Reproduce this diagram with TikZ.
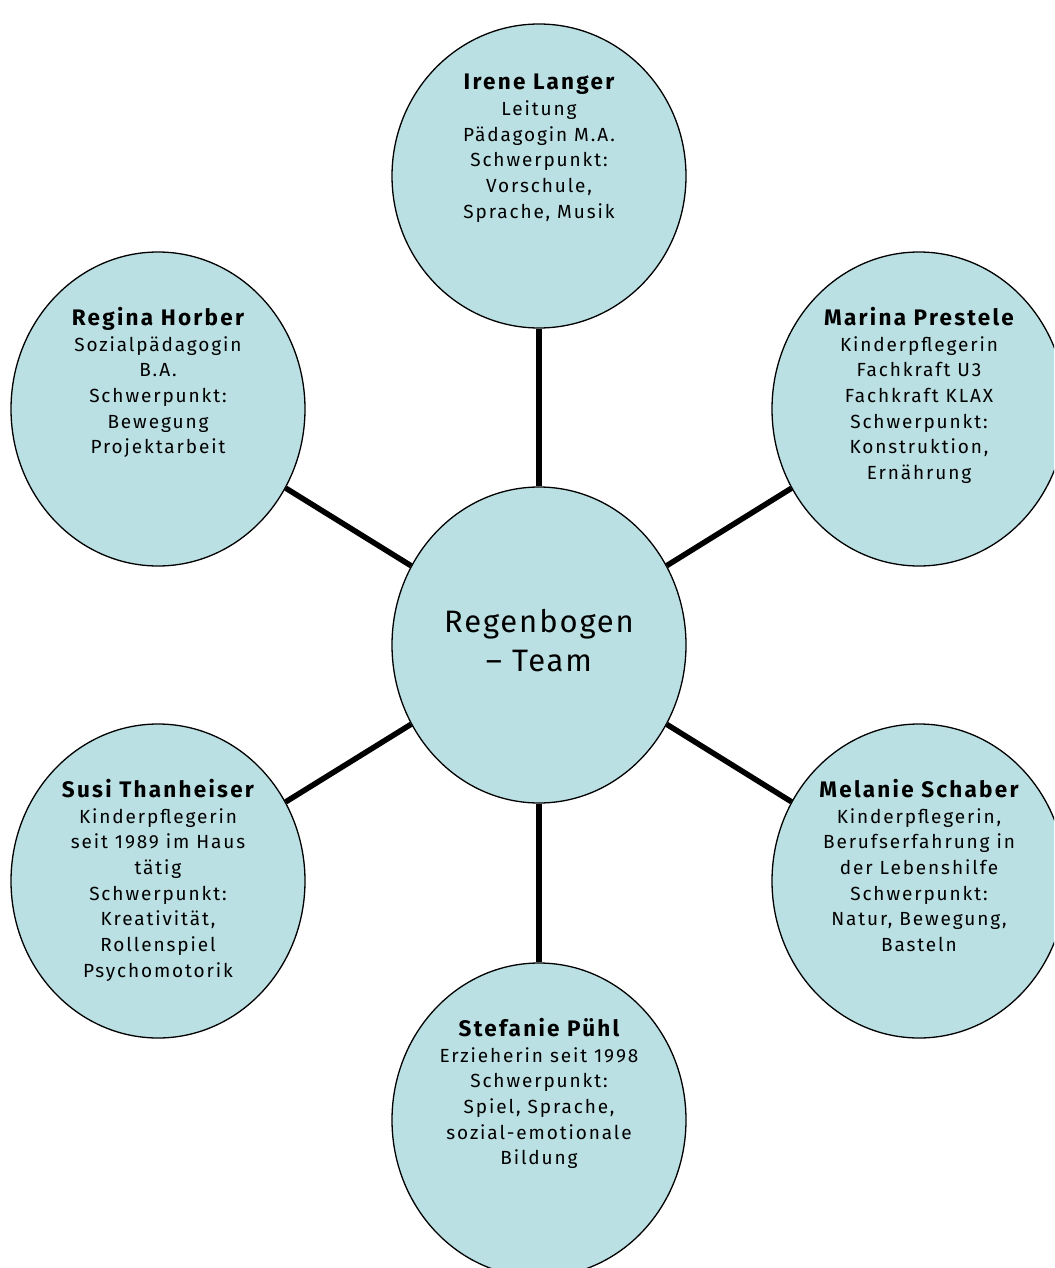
\documentclass[tikz,border=0pt]{standalone}
\usepackage{fontspec}
\setmainfont[LetterSpace=10]{Fira Sans}
\usetikzlibrary{shapes.geometric}
\definecolor{teamfill}{RGB}{186,224,227}

\tikzset{
  member/.style={draw,ellipse,fill=teamfill,line width=1.3pt,minimum width=294pt,minimum height=314pt,inner sep=0pt},
  info/.style={align=center,anchor=north,inner sep=0pt,font=\fontsize{19}{25.7}\selectfont},
  link/.style={line width=5.5pt},
}
\newcommand{\who}[1]{{\fontsize{22.5}{28}\selectfont\bfseries #1}}

\begin{document}
\begin{tikzpicture}[x=1pt,y=-1pt]

  \clip (0,0) rectangle (1054,1268);
  \fill[white] (0,0) rectangle (1054,1268);

  % the team and its members
  \node[member,minimum height=316pt] at (539,645) (hub) {};
  \node[member,minimum height=304pt] at (539,176) (irene) {};
  \node[member] at (919,409) (marina) {};
  \node[member] at (158,409) (regina) {};
  \node[member] at (158,881) (susi) {};
  \node[member] at (919,881) (melanie) {};
  \node[member] at (539,1120) (stefanie) {};

  \draw[link] (hub) -- (irene);   \draw[link] (hub) -- (marina);
  \draw[link] (hub) -- (regina);  \draw[link] (hub) -- (susi);
  \draw[link] (hub) -- (melanie); \draw[link] (hub) -- (stefanie);

  \node[align=center,font=\fontsize{31}{39}\selectfont\addfontfeatures{LetterSpace=6}] at ([yshift=4pt]hub.center) (hub-t) {Regenbogen\\– Team};

  \node[info] at ([yshift=102pt]irene.center) (irene-t)
    {\who{Irene Langer}\\Leitung\\Pädagogin M.A.\\Schwerpunkt:\\Vorschule,\\Sprache, Musik};
  \node[info] at ([yshift=102pt]marina.center) (marina-t)
    {\who{Marina Prestele}\\Kinderpflegerin\\Fachkraft U3\\Fachkraft KLAX\\Schwerpunkt:\\Konstruktion,\\Ernährung};
  \node[info] at ([yshift=102pt]regina.center) (regina-t)
    {\who{Regina Horber}\\Sozialpädagogin\\B.A.\\Schwerpunkt:\\Bewegung\\Projektarbeit};
  \node[info] at ([yshift=102pt]susi.center) (susi-t)
    {\who{Susi Thanheiser}\\Kinderpflegerin\\seit 1989 im Haus\\tätig\\Schwerpunkt:\\Kreativität,\\Rollenspiel\\Psychomotorik};
  \node[info] at ([yshift=102pt]melanie.center) (melanie-t)
    {\who{Melanie Schaber}\\Kinderpflegerin,\\Berufserfahrung in\\der Lebenshilfe\\Schwerpunkt:\\Natur, Bewegung,\\Basteln};
  \node[info] at ([yshift=102pt]stefanie.center) (stefanie-t)
    {\who{Stefanie Pühl}\\Erzieherin seit 1998\\Schwerpunkt:\\Spiel, Sprache,\\sozial-emotionale\\Bildung};

\end{tikzpicture}
\end{document}
